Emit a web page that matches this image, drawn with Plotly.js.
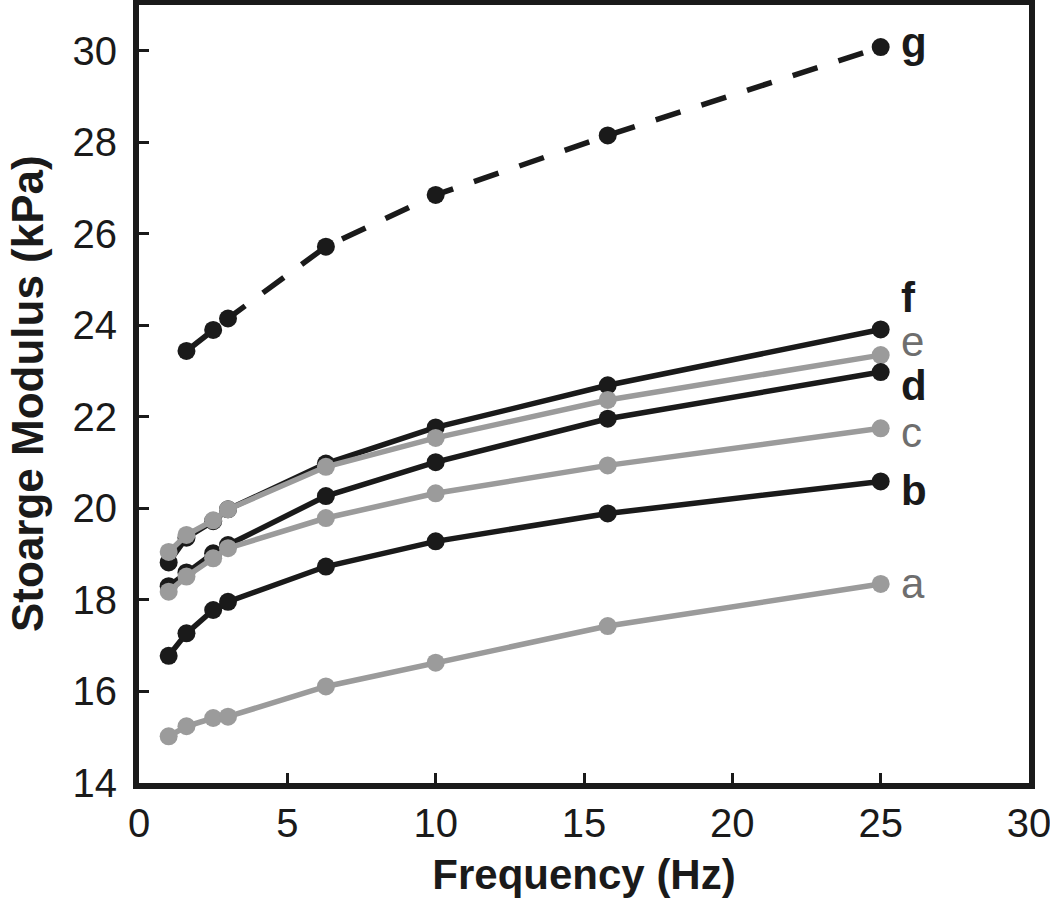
<!DOCTYPE html>
<html>
<head>
<meta charset="utf-8">
<script src="https://cdn.plot.ly/plotly-3.0.1.min.js"></script>
<style>
  html, body { margin: 0; padding: 0; background: #fff; }
  #chart { width: 1050px; height: 904px; }
</style>
</head>
<body>
<div id="chart"></div>
<script>
// Frequency (Hz)
const freq = [1, 1.6, 2.5, 3, 6.3, 10, 15.8, 25];
const freqG = [1.6, 2.5, 3, 6.3, 10, 15.8, 25];

// Storage modulus (kPa) per sample
const seriesA = [15.02, 15.24, 15.42, 15.45, 16.11, 16.63, 17.43, 18.35];
const seriesB = [16.78, 17.27, 17.78, 17.96, 18.73, 19.28, 19.89, 20.59];
const seriesC = [18.18, 18.51, 18.91, 19.13, 19.79, 20.33, 20.94, 21.75];
const seriesD = [18.30, 18.60, 19.02, 19.20, 20.27, 21.01, 21.96, 22.98];
const seriesE = [19.05, 19.42, 19.74, 19.98, 20.91, 21.54, 22.37, 23.35];
const seriesF = [18.82, 19.36, 19.72, 19.98, 20.98, 21.77, 22.69, 23.91];
const seriesG = [23.44, 23.90, 24.15, 25.72, 26.85, 28.15, 30.08];

const xTicks = [0, 5, 10, 15, 20, 25, 30];
const yTicks = [14, 16, 18, 20, 22, 24, 26, 28, 30];

const labels = ["a", "b", "c", "d", "e", "f", "g"];
const labelOffset = [0.0, -0.2, -0.1, -0.3, 0.3, 0.7, 0.1];

const xTitle = "Frequency (Hz)";
const yTitle = "Stoarge Modulus (kPa)";

const BLACK = "#1a1a1a";
const GRAY = "#9b9b9b";
const LABEL_GRAY = "#6e6e6e";
const FONT = "Liberation Sans, Arial, sans-serif";

const defs = [
  {x: freqG, y: seriesG, color: BLACK, dash: "26px,22px", lab: 6, bold: true},
  {x: freq, y: seriesF, color: BLACK, dash: "solid", lab: 5, bold: true},
  {x: freq, y: seriesE, color: GRAY, dash: "solid", lab: 4, bold: false},
  {x: freq, y: seriesD, color: BLACK, dash: "solid", lab: 3, bold: true},
  {x: freq, y: seriesC, color: GRAY, dash: "solid", lab: 2, bold: false},
  {x: freq, y: seriesB, color: BLACK, dash: "solid", lab: 1, bold: true},
  {x: freq, y: seriesA, color: GRAY, dash: "solid", lab: 0, bold: false}
];

const traces = defs.map(d => ({
  type: "scatter",
  mode: "lines+markers",
  x: d.x, y: d.y,
  name: labels[d.lab],
  line: {color: d.color, width: 5.5, dash: d.dash},
  marker: {color: d.color, size: 18},
  hoverinfo: "x+y"
}));

const annotations = defs.map(d => {
  const n = d.y.length;
  return {
    x: d.x[n - 1], y: d.y[n - 1] + labelOffset[d.lab],
    xref: "x", yref: "y",
    text: d.bold ? "<b>" + labels[d.lab] + "</b>" : labels[d.lab],
    showarrow: false,
    xanchor: "left", yanchor: "middle",
    xshift: 18,
    font: {family: FONT, size: 42, color: d.bold ? BLACK : LABEL_GRAY}
  };
});

// y-axis title as a rotated annotation so it can sit close to the page edge
annotations.push({
  xref: "paper", yref: "paper", x: 0, y: 0.5,
  xanchor: "center", yanchor: "middle",
  xshift: -112, textangle: -90,
  text: "<b>" + yTitle + "</b>",
  showarrow: false,
  font: {family: FONT, size: 44, color: "#1a1a1a"}
});

const layout = {
  width: 1050, height: 904,
  margin: {l: 139, r: 21, t: 5, b: 121},
  paper_bgcolor: "#fff", plot_bgcolor: "#fff",
  showlegend: false,
  font: {family: FONT, color: "#111"},
  xaxis: {
    range: [0, 30], tickmode: "array", tickvals: xTicks, ticktext: xTicks.map(String),
    showgrid: false, zeroline: false,
    showline: true, mirror: true, linecolor: BLACK, linewidth: 6,
    ticks: "inside", ticklen: 10, tickwidth: 3, tickcolor: BLACK,
    ticklabeloverflow: "allow",
    tickfont: {family: FONT, size: 40, color: "#1a1a1a"},
    title: {text: "<b>" + xTitle + "</b>", font: {family: FONT, size: 42, color: "#1a1a1a"}, standoff: 18}
  },
  yaxis: {
    range: [14, 31], tickmode: "array", tickvals: yTicks, ticktext: yTicks.map(String),
    showgrid: false, zeroline: false,
    showline: true, mirror: true, linecolor: BLACK, linewidth: 6,
    ticks: "inside", ticklen: 10, tickwidth: 3, tickcolor: BLACK,
    ticklabelstandoff: 8,
    tickfont: {family: FONT, size: 40, color: "#1a1a1a"}
  },
  annotations: annotations
};

Plotly.newPlot("chart", traces, layout, {displayModeBar: false, staticPlot: true});
</script>
</body>
</html>
